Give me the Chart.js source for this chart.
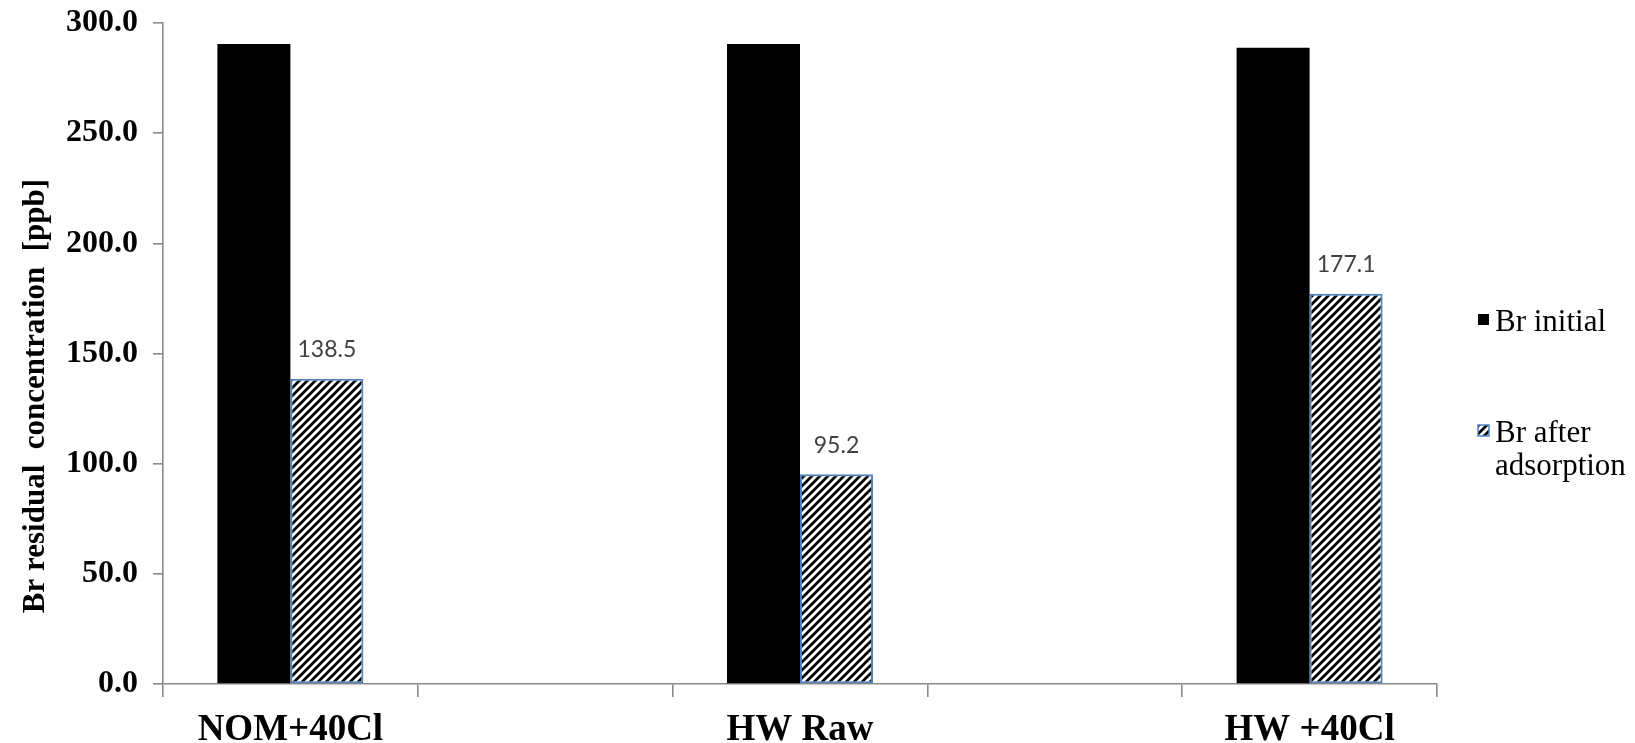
<!DOCTYPE html>
<html>
<head>
<meta charset="utf-8">
<script src="https://cdn.jsdelivr.net/npm/chart.js@4.4.1/dist/chart.umd.min.js"></script>
<style>
  html, body { margin: 0; padding: 0; background: #ffffff; }
  #wrap { position: relative; width: 1635px; height: 743px; }
</style>
</head>
<body>
<div id="wrap"><canvas id="c" width="1635" height="743"></canvas></div>
<script>
// Categories (slots 2 and 4 are empty spacer columns on the axis)
const categories = ['NOM+40Cl', '', 'HW Raw', '', 'HW +40Cl'];
// Bromide concentrations in ppb
const brInitial = [290.5, null, 290.5, null, 288.8];
const brAfterAdsorption = [138.5, null, 95.2, null, 177.1];
// Value axis
const yMin = 0;
const yMax = 300;
const yStep = 50;
// Legend entries
const seriesNames = [['Br initial'], ['Br after', 'adsorption']];

const AXIS_GREY = '#8a8a8a';
const SERIF = '"Liberation Serif", "DejaVu Serif", serif';

// Diagonal "/" hatch used for the after-adsorption bars
function makeHatch() {
  const p = 8;
  const tile = document.createElement('canvas');
  tile.width = p; tile.height = p;
  const g = tile.getContext('2d');
  g.fillStyle = '#ffffff';
  g.fillRect(0, 0, p, p);
  g.strokeStyle = '#000000';
  g.lineWidth = 2.7;
  g.beginPath();
  g.moveTo(-1, p + 1); g.lineTo(p + 1, -1);
  g.moveTo(-1, 1); g.lineTo(1, -1);
  g.moveTo(p - 1, p + 1); g.lineTo(p + 1, p - 1);
  g.stroke();
  return g.createPattern(tile, 'repeat');
}
const hatch = makeHatch();

// Value labels above the hatched bars
const valueLabels = {
  id: 'valueLabels',
  afterDatasetsDraw(chart) {
    const ctx = chart.ctx;
    const meta = chart.getDatasetMeta(1);
    const data = chart.data.datasets[1].data;
    ctx.save();
    ctx.font = '23px Lato, "Open Sans", sans-serif';
    ctx.fillStyle = '#404040';
    ctx.textAlign = 'center';
    ctx.textBaseline = 'middle';
    meta.data.forEach((bar, i) => {
      if (data[i] == null) return;
      ctx.fillText(data[i].toFixed(1), bar.x, bar.y - 29);
    });
    ctx.restore();
  }
};

// Vertical axis title and right-hand legend
const sideText = {
  id: 'sideText',
  afterDraw(chart) {
    const ctx = chart.ctx;
    ctx.save();
    // axis title
    ctx.translate(36, 396);
    ctx.rotate(-Math.PI / 2);
    ctx.font = 'bold 31px ' + SERIF;
    ctx.fillStyle = '#000000';
    ctx.textAlign = 'center';
    ctx.textBaseline = 'middle';
    ctx.fillText('Br residual  concentration  [ppb]', 0, 0);
    ctx.restore();

    // legend
    const x0 = 1478, box = 11, textX = 1495, lineH = 33;
    const baselines = [331, 442];
    ctx.save();
    ctx.font = '400 31px ' + SERIF;
    ctx.textAlign = 'left';
    ctx.textBaseline = 'alphabetic';
    chart.data.datasets.forEach((ds, i) => {
      const b = baselines[i];
      ctx.fillStyle = ds.backgroundColor;
      ctx.fillRect(x0, b - box - 6, box, box);
      if (ds.borderWidth) {
        ctx.strokeStyle = ds.borderColor;
        ctx.lineWidth = 1.5;
        ctx.strokeRect(x0, b - box - 6, box, box);
      }
      ctx.fillStyle = '#000000';
      seriesNames[i].forEach((line, k) => ctx.fillText(line, textX, b + k * lineH));
    });
    ctx.restore();
  }
};

const chart = new Chart(document.getElementById('c'), {
  type: 'bar',
  data: {
    labels: categories,
    datasets: [
      {
        label: seriesNames[0].join(' '),
        data: brInitial,
        backgroundColor: '#000000',
        borderWidth: 0,
        categoryPercentage: 0.573,
        barPercentage: 1.0
      },
      {
        label: seriesNames[1].join(' '),
        data: brAfterAdsorption,
        backgroundColor: hatch,
        borderColor: '#4f81bd',
        borderWidth: 2,
        borderSkipped: false,
        categoryPercentage: 0.573,
        barPercentage: 1.0
      }
    ]
  },
  options: {
    responsive: false,
    animation: false,
    devicePixelRatio: 1,
    layout: { padding: { left: 0, right: 198, top: 0, bottom: 0 } },
    plugins: {
      legend: { display: false },
      tooltip: { enabled: false }
    },
    scales: {
      x: {
        offset: true,
        grid: {
          display: true,
          offset: true,
          drawOnChartArea: false,
          drawTicks: true,
          tickLength: 13,
          color: AXIS_GREY,
          lineWidth: 1.6
        },
        border: { display: true, color: AXIS_GREY, width: 1.6 },
        ticks: {
          autoSkip: false,
          maxRotation: 0,
          padding: 11,
          color: '#000000',
          font: { family: SERIF, size: 37, weight: 'bold' }
        },
        afterFit(scale) { scale.height = 59; }
      },
      y: {
        min: yMin,
        max: yMax,
        grid: {
          display: true,
          drawOnChartArea: false,
          drawTicks: true,
          tickLength: 10,
          color: AXIS_GREY,
          lineWidth: 1.6
        },
        border: { display: true, color: AXIS_GREY, width: 1.6 },
        ticks: {
          stepSize: yStep,
          padding: 15,
          color: '#000000',
          font: { family: SERIF, size: 32, weight: 'bold', lineHeight: 0.5 },
          callback: (v) => Number(v).toFixed(1)
        },
        afterFit(scale) { scale.width = 163; }
      }
    }
  },
  plugins: [valueLabels, sideText]
});

// Redraw once every face is available so canvas text uses the intended fonts
if (document.fonts && document.fonts.load) {
  Promise.all([
    document.fonts.load('400 31px "Liberation Serif"'),
    document.fonts.load('bold 31px "Liberation Serif"'),
    document.fonts.load('23px Lato')
  ]).then(() => chart.draw()).catch(() => {});
}
</script>
</body>
</html>
